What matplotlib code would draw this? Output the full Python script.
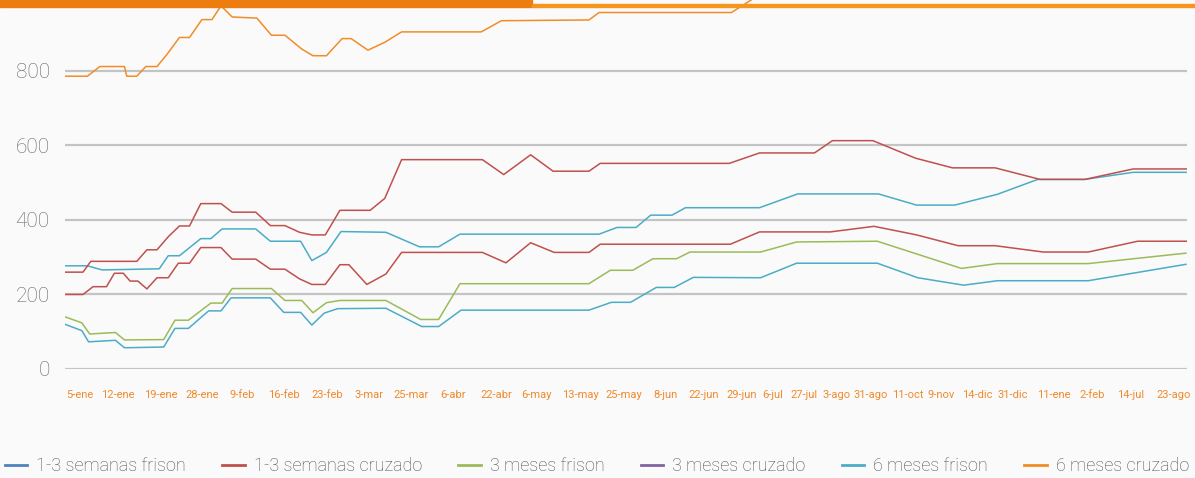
import matplotlib
matplotlib.use("Agg")
import matplotlib.pyplot as plt
from matplotlib.patches import Rectangle
from matplotlib.lines import Line2D

plt.rcParams['font.family'] = ['Roboto', 'DejaVu Sans']

# observation position along the period (0 = first price, 100 = last price)
# 6 meses cruzado (top orange line, runs off the top of the chart later on)
x_6m_cruzado = [0.0, 2.0, 3.1, 5.3, 5.5, 6.4, 7.2, 8.2, 9.1, 10.2, 11.1, 12.2, 13.1, 13.9, 14.9,
                17.1, 18.4, 19.6, 21.1, 22.1, 23.3, 24.7, 25.5, 27.0, 28.5, 30.0, 37.1, 38.9,
                46.7, 47.6, 59.4, 61.9, 100.0]
y_6m_cruzado = [786, 786, 812, 812, 786, 786, 812, 812, 845, 890, 890, 938, 938, 975, 945,
                942, 896, 896, 859, 841, 841, 887, 887, 856, 877, 905, 905, 935,
                937, 957, 957, 1005, 1005]

# 1-3 semanas cruzado (upper red)
x_13s_cruzado = [0.0, 1.6, 2.3, 6.4, 7.3, 8.2, 9.2, 10.2, 11.1, 12.1, 13.9, 14.9, 17.0, 18.3,
                 19.6, 20.9, 22.0, 23.2, 24.5, 27.2, 28.5, 30.0, 37.2, 39.1, 41.5, 43.5, 46.7,
                 47.7, 59.2, 61.9, 66.8, 68.4, 72.0, 75.8, 79.1, 82.9, 86.9, 90.9, 95.2, 100.0]
y_13s_cruzado = [260, 260, 289, 289, 320, 320, 355, 384, 384, 444, 444, 421, 421, 385,
                 385, 367, 360, 360, 426, 426, 458, 562, 562, 522, 575, 531, 531,
                 552, 552, 580, 580, 613, 613, 566, 540, 540, 509, 509, 537, 537]

# 6 meses frison (upper light blue)
x_6m_frison = [0.0, 2.0, 3.3, 8.4, 9.2, 10.2, 12.1, 13.0, 14.0, 17.0, 18.3, 21.0, 22.0, 23.3,
               24.6, 28.6, 31.6, 33.3, 35.2, 47.6, 49.2, 50.9, 52.2, 54.1, 55.3, 61.9, 65.3,
               72.5, 75.9, 79.3, 83.1, 86.7, 90.9, 95.2, 100.0]
y_6m_frison = [277, 277, 266, 269, 304, 304, 350, 350, 376, 376, 343, 343, 291, 313,
               369, 367, 328, 328, 362, 362, 380, 380, 413, 413, 433, 433, 470,
               470, 440, 440, 469, 509, 509, 528, 528]

# second red series (lower red)
x_red_2 = [0.0, 1.6, 2.5, 3.7, 4.4, 5.2, 5.8, 6.5, 7.3, 8.2, 9.2, 10.1, 11.1, 12.1, 13.9,
           14.9, 17.0, 18.3, 19.6, 20.9, 22.0, 23.2, 24.5, 25.3, 26.9, 28.6, 30.0, 37.2,
           39.3, 41.5, 43.6, 46.7, 47.7, 59.3, 61.9, 68.2, 72.1, 75.9, 79.6, 82.9, 87.2,
           91.2, 95.6, 100.0]
y_red_2 = [200, 200, 221, 221, 257, 257, 236, 236, 215, 245, 245, 284, 284, 326, 326,
           295, 295, 268, 268, 242, 227, 227, 280, 280, 227, 255, 313, 313,
           285, 339, 313, 313, 335, 335, 368, 368, 383, 360, 331, 331, 314,
           314, 343, 343]

# 3 meses frison (green)
x_3m_frison = [0.0, 1.5, 2.2, 4.5, 5.3, 8.8, 9.8, 11.0, 13.0, 14.0, 14.9, 18.4, 19.6, 21.1,
               22.1, 23.3, 24.5, 28.6, 31.7, 33.3, 35.2, 46.7, 48.6, 50.6, 52.4, 54.5, 55.7,
               62.0, 65.2, 72.4, 79.9, 83.1, 91.2, 99.9]
y_3m_frison = [140, 124, 94, 98, 78, 79, 131, 131, 177, 177, 216, 216, 184, 184,
               151, 178, 184, 184, 133, 133, 229, 229, 265, 265, 296, 296, 314,
               314, 341, 343, 270, 283, 283, 311]

# second light blue series (lower light blue)
x_blue_2 = [0.0, 1.5, 2.1, 4.5, 5.3, 8.8, 9.8, 11.0, 12.8, 13.9, 14.8, 18.3, 19.5, 21.0,
            22.0, 23.1, 24.3, 28.6, 31.8, 33.3, 35.3, 46.7, 48.7, 50.4, 52.7, 54.3, 56.0,
            62.0, 65.2, 72.4, 76.0, 80.1, 83.1, 91.2, 99.9]
y_blue_2 = [120, 103, 73, 77, 57, 59, 109, 109, 156, 156, 191, 191, 152, 152,
            118, 150, 162, 163, 114, 114, 158, 158, 179, 179, 219, 219, 246,
            245, 284, 284, 245, 225, 237, 237, 281]

# x-axis date labels and where they sit on the observation scale
tick_pos = [1.3, 4.7, 8.5, 12.2, 15.8, 19.5, 23.4, 27.1, 30.8, 34.6, 38.4, 42.0, 45.9, 49.8,
            53.5, 56.9, 60.3, 63.1, 65.9, 68.8, 71.8, 75.1, 78.1, 81.3, 84.5, 88.1, 91.5,
            95.0, 98.8]
tick_labels = ['5-ene', '12-ene', '19-ene', '28-ene', '9-feb', '16-feb', '23-feb', '3-mar',
               '25-mar', '6-abr', '22-abr', '6-may', '13-may', '25-may', '8-jun', '22-jun',
               '29-jun', '6-jul', '27-jul', '3-ago', '31-ago', '11-oct', '9-nov', '14-dic',
               '31-dic', '11-ene', '2-feb', '14-jul', '23-ago']

series_names = ['1-3 semanas frison', '1-3 semanas cruzado', '3 meses frison',
                '3 meses cruzado', '6 meses frison', '6 meses cruzado']
series_colors = ['#4F81BD', '#C0504D', '#9BBB59', '#8064A2', '#4BACC6', '#F28C28']

bg = '#fafafa'
fig = plt.figure(figsize=(11.95, 4.78), dpi=100, facecolor=bg)
ax = fig.add_axes([65 / 1195, 109 / 478, 1122 / 1195, 369 / 478])
ax.set_facecolor(bg)

lw = 1.1
ax.plot(x_blue_2, y_blue_2, color=series_colors[4], lw=lw)
ax.plot(x_3m_frison, y_3m_frison, color=series_colors[2], lw=lw)
ax.plot(x_red_2, y_red_2, color=series_colors[1], lw=lw)
ax.plot(x_6m_frison, y_6m_frison, color=series_colors[4], lw=lw)
ax.plot(x_13s_cruzado, y_13s_cruzado, color=series_colors[1], lw=lw)
ax.plot(x_6m_cruzado, y_6m_cruzado, color=series_colors[5], lw=lw)

ax.set_xlim(0, 100)
ax.set_ylim(0, 990.6)
ax.set_yticks([0, 200, 400, 600, 800])
ax.yaxis.grid(True, color='#c4c4c4', lw=1.6)
ax.set_axisbelow(True)
for s in ax.spines.values():
    s.set_visible(False)

ax.set_xticks(tick_pos)
ax.set_xticklabels(tick_labels, fontsize=8, color='#F08A2C')
ax.tick_params(axis='x', length=0, pad=15)
ax.tick_params(axis='y', length=0, pad=11, labelsize=15, labelcolor='#666666')
for t in ax.get_yticklabels():
    t.set_fontweight('light')

# legend along the bottom
handles = [Line2D([], [], color=c, lw=2) for c in series_colors]
leg = fig.legend(handles, series_names, loc='center left', bbox_to_anchor=(0.004, 0.025),
                 ncol=6, frameon=False, fontsize=13.0, handlelength=1.25,
                 handletextpad=0.5, columnspacing=2.0, borderpad=0, borderaxespad=0)
for t in leg.get_texts():
    t.set_color('#505050')
    t.set_fontweight('light')

# orange header strip at the top
fig.patches.append(Rectangle((0, 1 - 7 / 478), 532 / 1195, 7 / 478, transform=fig.transFigure,
                             color='#ED7D0F', zorder=5))
fig.patches.append(Rectangle((532 / 1195, 1 - 7 / 478), 1 - 532 / 1195, 2.5 / 478,
                             transform=fig.transFigure, color='#F7941D', zorder=5))

fig.savefig('out.png', dpi=100, facecolor=bg)
